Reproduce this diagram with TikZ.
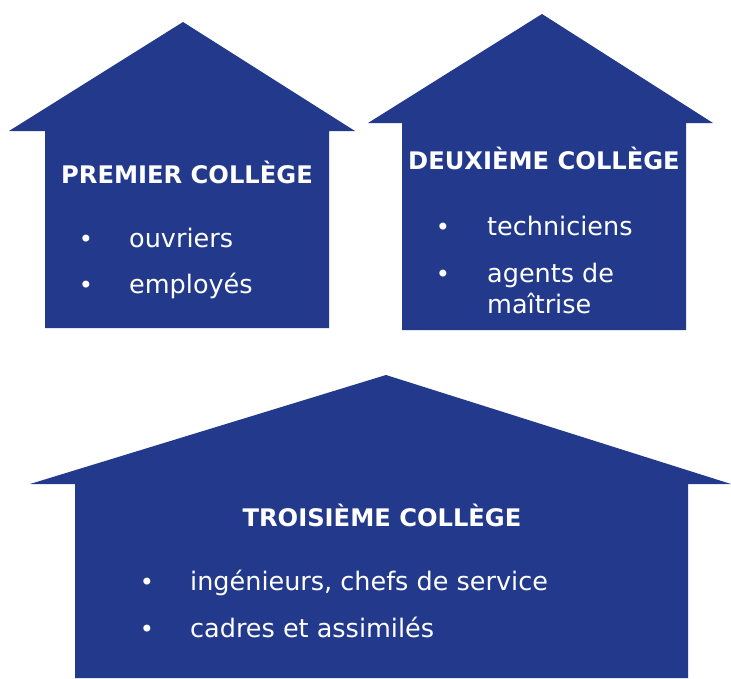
\documentclass[tikz,border=0pt]{standalone}
\usepackage{fontspec}
\setmainfont{DejaVu Sans}
\usetikzlibrary{positioning}
\definecolor{collegeblue}{RGB}{35,58,140}

\begin{document}
\begin{tikzpicture}[
    x=1pt, y=-1pt,
    house/.style={fill=collegeblue},
    title/.style={text=white, anchor=base, font=\fontsize{24.2}{31}\selectfont\bfseries},
    bullet/.style={text=white, anchor=base, font=\fontsize{24}{31}\selectfont},
    item/.style={text=white, anchor=base west, inner sep=0pt, font=\fontsize{25.5}{31}\selectfont}
]
    \useasboundingbox (0,0) rectangle (731,678);

    % Premier college
    \fill[house] (9,131) -- (183,22) -- (355,131) -- (329,131) -- (329,328) -- (45,328) -- (45,131) -- cycle;
    \node[title] (t1) at (187,183) {PREMIER COLLÈGE};
    \node[bullet] (b11) at (86,247) {•};
    \node[item] (i11) at (129,247) {ouvriers};
    \node[bullet] (b12) at (86,293) {•};
    \node[item] (i12) at (129,293) {employés};

    % Deuxieme college
    \fill[house] (368,123) -- (542,14) -- (713,123) -- (686,123) -- (686,330) -- (402,330) -- (402,123) -- cycle;
    \node[title] (t2) at (544,169) {DEUXIÈME COLLÈGE};
    \node[bullet] (b21) at (443,235) {•};
    \node[item] (i21) at (487,235) {techniciens};
    \node[bullet] (b22) at (443,282) {•};
    \node[item] (i22) at (487,282) {agents de};
    \node[item] (i23) at (487,313) {maîtrise};

    % Troisieme college
    \fill[house] (30,484) -- (386,375) -- (731,484) -- (688,484) -- (688,678) -- (75,678) -- (75,484) -- cycle;
    \node[title] (t3) at (382,526) {TROISIÈME COLLÈGE};
    \node[bullet] (b31) at (147,590) {•};
    \node[item] (i31) at (190,590) {ingénieurs, chefs de service};
    \node[bullet] (b32) at (147,637) {•};
    \node[item] (i32) at (190,637) {cadres et assimilés};
\end{tikzpicture}
\end{document}
